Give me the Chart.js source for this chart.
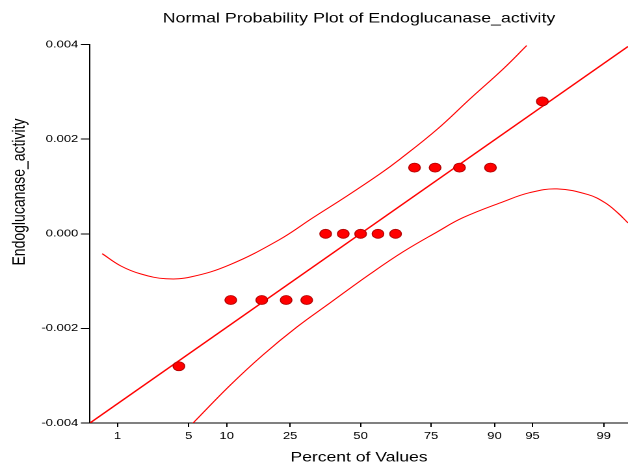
<!DOCTYPE html>
<html>
<head>
<meta charset="utf-8">
<script src="https://cdn.jsdelivr.net/npm/chart.js@4"></script>
<style>
  html, body { margin: 0; padding: 0; background: #fff; }
  canvas { display: block; }
</style>
</head>
<body>
<!-- the reference is a stretched picture: draw at 483 wide and show it at 628 -->
<canvas id="chart" width="483" height="463" style="width:628px;height:463px"></canvas>
<script>
// data (x = percent of values, y = Endoglucanase_activity)
var xTicks = [1, 5, 10, 25, 50, 75, 90, 95, 99];
var yTicks = [-0.004, -0.002, 0, 0.002, 0.004];

var pointPct = [4.1, 10.7, 17.2, 23.8, 30.3, 36.9, 43.4, 50.0, 56.6, 63.1, 69.7, 76.2, 82.8, 89.3, 95.9];
var pointVal = [-0.0028, -0.0014, -0.0014, -0.0014, -0.0014, 0, 0, 0, 0, 0, 0.0014, 0.0014, 0.0014, 0.0014, 0.0028];

var fitPct = [0.48, 99.475];
var fitVal = [-0.004, 0.00396];

var upperPct = [0.67, 1.09, 1.78, 3.13, 5.23, 10.4, 21.7, 32.4, 44.8, 57.4, 64.7, 76.8, 85.2, 91.4, 94.4];
var upperVal = [-0.00042, -0.00068, -0.00085, -0.00095, -0.00091, -0.00066, -0.00013, 0.00034, 0.0008, 0.00127, 0.00158, 0.00221, 0.00285, 0.00349, 0.00398];

var lowerPct = [5.44, 10.6, 17.5, 27.1, 38.5, 53.6, 65.8, 76.8, 83.6, 91.4, 94.7, 96.99, 98.52, 99.03, 99.31, 99.475];
var lowerVal = [-0.004, -0.0032, -0.00256, -0.00197, -0.00146, -0.00085, -0.00038, 0.00004, 0.00034, 0.00068, 0.00087, 0.00095, 0.00083, 0.00066, 0.00044, 0.00023];

var titleText = 'Normal Probability Plot of Endoglucanase_activity';
var xTitle = 'Percent of Values';
var yTitle = 'Endoglucanase_activity';

var font = '"Liberation Sans", Arial, sans-serif';

function pairs(xs, ys) {
    return xs.map(function (x, i) { return {x: x, y: ys[i]}; });
}

// inverse normal cdf (Acklam), used by the probability axis
function probit(p) {
    var a = [-3.969683028665376e+01, 2.209460984245205e+02, -2.759285104469687e+02, 1.383577518672690e+02, -3.066479806614716e+01, 2.506628277459239e+00];
    var b = [-5.447609879822406e+01, 1.615858368580409e+02, -1.556989798598866e+02, 6.680131188771972e+01, -1.328068155288572e+01];
    var c = [-7.784894002430293e-03, -3.223964580411365e-01, -2.400758277161838e+00, -2.549732539343734e+00, 4.374664141464968e+00, 2.938163982698783e+00];
    var d = [7.784695709041462e-03, 3.224671290700398e-01, 2.445134137142996e+00, 3.754408661907416e+00];
    var q, r;
    if (p < 0.02425) {
        q = Math.sqrt(-2 * Math.log(p));
        return (((((c[0]*q+c[1])*q+c[2])*q+c[3])*q+c[4])*q+c[5]) / ((((d[0]*q+d[1])*q+d[2])*q+d[3])*q+1);
    }
    if (p > 1 - 0.02425) {
        q = Math.sqrt(-2 * Math.log(1 - p));
        return -(((((c[0]*q+c[1])*q+c[2])*q+c[3])*q+c[4])*q+c[5]) / ((((d[0]*q+d[1])*q+d[2])*q+d[3])*q+1);
    }
    q = p - 0.5;
    r = q * q;
    return (((((a[0]*r+a[1])*r+a[2])*r+a[3])*r+a[4])*r+a[5])*q / (((((b[0]*r+b[1])*r+b[2])*r+b[3])*r+b[4])*r+1);
}

/* normal probability axis: values are percents, placed by their normal score */
class ProbitScale extends Chart.Scale {
    determineDataLimits() {
        this.min = this.options.min;
        this.max = this.options.max;
    }
    buildTicks() {
        return xTicks.map(function (v) { return {value: v}; });
    }
    getLabelForValue(v) {
        return String(v);
    }
    configure() {
        super.configure();
        this._zMin = probit(this.min / 100);
        this._zMax = probit(this.max / 100);
    }
    getPixelForValue(v) {
        return this.getPixelForDecimal((probit(v / 100) - this._zMin) / (this._zMax - this._zMin));
    }
    getValueForPixel(px) {
        return this.min + (this.max - this.min) * this.getDecimalForPixel(px);
    }
}
ProbitScale.id = 'probit';
ProbitScale.defaults = {};
Chart.register(ProbitScale);

// the y title sits above the middle of the axis, so it is drawn here
var yTitlePlugin = {
    id: 'yTitle',
    afterDraw: function (chart) {
        var ctx = chart.ctx;
        ctx.save();
        ctx.translate(15, 192);
        ctx.rotate(-Math.PI / 2);
        ctx.font = '14px ' + font;
        ctx.fillStyle = '#000';
        ctx.textAlign = 'center';
        ctx.textBaseline = 'middle';
        ctx.fillText(yTitle, 0, 0);
        ctx.restore();
    }
};

var ctx = document.getElementById('chart').getContext('2d');
var myChart = new Chart(ctx, {
    type: 'scatter',
    data: {
        datasets: [{
            label: yTitle,
            data: pairs(pointPct, pointVal),
            pointStyle: 'circle',
            pointRadius: 4.5,
            backgroundColor: '#ff0000',
            borderColor: '#b00000',
            borderWidth: 0.8
        }, {
            label: 'fit',
            data: pairs(fitPct, fitVal),
            showLine: true,
            pointRadius: 0,
            borderColor: '#ff0000',
            borderWidth: 1.3
        }, {
            label: 'upper',
            data: pairs(upperPct, upperVal),
            showLine: true,
            pointRadius: 0,
            borderColor: '#ff0000',
            borderWidth: 1,
            tension: 0.4
        }, {
            label: 'lower',
            data: pairs(lowerPct, lowerVal),
            showLine: true,
            pointRadius: 0,
            borderColor: '#ff0000',
            borderWidth: 1,
            tension: 0.4
        }]
    },
    options: {
        responsive: false,
        animation: false,
        devicePixelRatio: 2,
        events: [],
        layout: {padding: 0, autoPadding: false},
        plugins: {
            legend: {display: false},
            tooltip: {enabled: false},
            title: {
                display: true,
                text: titleText,
                fullSize: false,
                color: '#000',
                font: {family: font, size: 13.7, weight: 'normal'},
                padding: {top: 10.5, bottom: 17.7}
            }
        },
        scales: {
            x: {
                type: 'probit',
                position: 'bottom',
                min: 0.48,
                max: 99.475,
                afterFit: function (scale) { scale.height = 40; },
                border: {display: true, color: '#000', width: 1},
                grid: {drawOnChartArea: false, drawTicks: true, tickLength: 4, color: '#000'},
                ticks: {
                    color: '#000',
                    font: {family: font, size: 10},
                    padding: 3,
                    maxRotation: 0,
                    autoSkip: false,
                    callback: function (v) { return String(v); }
                },
                title: {
                    display: true,
                    text: xTitle,
                    color: '#000',
                    font: {family: font, size: 13.5},
                    padding: {top: 0, bottom: -3}
                }
            },
            y: {
                type: 'linear',
                position: 'left',
                min: yTicks[0],
                max: yTicks[yTicks.length - 1],
                afterFit: function (scale) { scale.width = 69.2; },
                afterBuildTicks: function (scale) {
                    scale.ticks = yTicks.map(function (v) { return {value: v}; });
                },
                border: {display: true, color: '#000', width: 1},
                grid: {drawOnChartArea: false, drawTicks: true, tickLength: 7, color: '#000'},
                ticks: {
                    color: '#000',
                    font: {family: font, size: 10},
                    padding: 2,
                    callback: function (v) { return (Math.abs(v) < 1e-12 ? 0 : v).toFixed(3); }
                }
            }
        }
    },
    plugins: [yTitlePlugin]
});
</script>
</body>
</html>
